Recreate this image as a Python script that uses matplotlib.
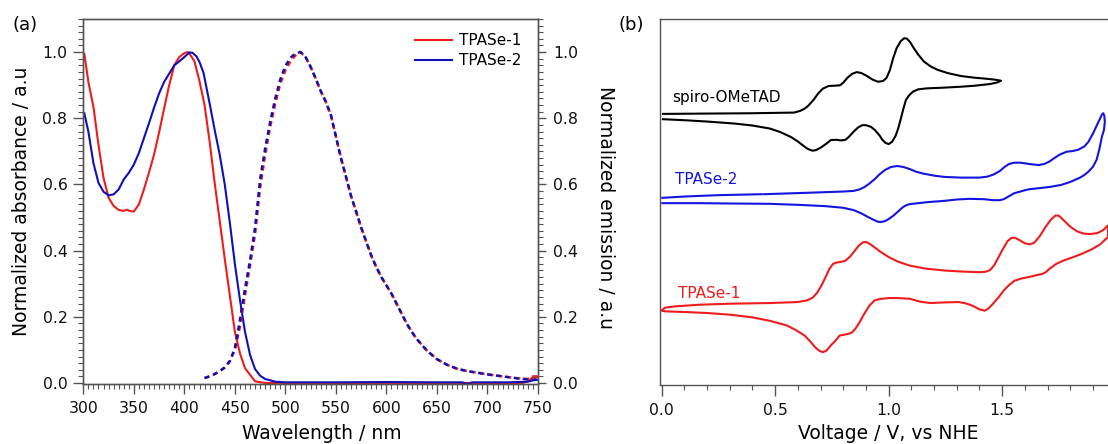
import numpy as np
import matplotlib
matplotlib.use("Agg")
import matplotlib.pyplot as plt
from matplotlib.ticker import MultipleLocator, FixedLocator, FormatStrFormatter

plt.rcParams['font.family'] = ['DejaVu Sans']

# ---------------- Panel (a) data ----------------
abs1_wl = [301, 305, 310, 315, 320, 325, 330, 335, 340, 343, 346, 350, 355, 360, 365, 370, 375,
           380, 385, 390, 395, 400, 403, 405, 410, 415, 420, 425, 430, 435, 440, 445, 450, 455,
           460, 465, 470, 480, 500, 550, 600, 650, 700, 735, 740, 745, 750]
abs1_val = [0.995, 0.91, 0.835, 0.72, 0.62, 0.56, 0.535, 0.523, 0.52, 0.524, 0.52, 0.518, 0.54,
            0.585, 0.636, 0.69, 0.757, 0.83, 0.90, 0.96, 0.985, 0.997, 1.0, 0.996, 0.972, 0.912,
            0.84, 0.73, 0.605, 0.49, 0.375, 0.265, 0.155, 0.09, 0.045, 0.025, 0.005, 0.0, 0.0,
            0.0, 0.0, 0.0, 0.0, 0.0, 0.005, 0.018, 0.018]

abs2_wl = [301, 305, 310, 315, 320, 325, 330, 335, 340, 345, 350, 355, 360, 365, 370, 375, 380,
           385, 390, 395, 400, 405, 408, 412, 415, 419, 425, 430, 435, 440, 445, 450, 455, 460,
           465, 470, 475, 480, 490, 500, 550, 600, 650, 675, 680, 685, 720, 740, 745, 750]
abs2_val = [0.815, 0.76, 0.665, 0.605, 0.578, 0.567, 0.57, 0.585, 0.615, 0.635, 0.66, 0.695,
            0.74, 0.785, 0.832, 0.875, 0.91, 0.935, 0.96, 0.972, 0.985, 0.999, 0.998, 0.987,
            0.97, 0.937, 0.845, 0.765, 0.69, 0.60, 0.485, 0.36, 0.252, 0.155, 0.085, 0.042,
            0.022, 0.012, 0.004, 0.002, 0.002, 0.003, 0.002, 0.002, -0.003, 0.002, 0.002,
            0.004, 0.008, 0.01]

em_wl = [420, 425, 430, 435, 440, 445, 450, 455, 460, 465, 470, 475, 480, 485, 490, 495, 500,
         505, 510, 515, 520, 525, 530, 535, 540, 545, 550, 555, 560, 565, 570, 575, 580, 585,
         590, 595, 600, 605, 610, 615, 620, 625, 630, 640, 650, 660, 670, 680, 690, 700, 710,
         720, 730, 740, 745, 750]
em2_val = [0.015, 0.02, 0.027, 0.036, 0.047, 0.066, 0.105, 0.19, 0.285, 0.37, 0.47, 0.615, 0.71,
           0.79, 0.86, 0.918, 0.958, 0.983, 0.996, 1.0, 0.985, 0.955, 0.92, 0.882, 0.85, 0.81,
           0.745, 0.68, 0.623, 0.565, 0.518, 0.47, 0.427, 0.385, 0.35, 0.32, 0.295, 0.27, 0.24,
           0.21, 0.18, 0.155, 0.133, 0.098, 0.072, 0.055, 0.043, 0.036, 0.031, 0.026, 0.022,
           0.018, 0.014, 0.011, 0.010, 0.012]
em1_val = [0.015, 0.02, 0.027, 0.036, 0.047, 0.066, 0.10, 0.17, 0.265, 0.355, 0.45, 0.59, 0.69,
           0.775, 0.845, 0.905, 0.945, 0.972, 0.99, 1.0, 0.985, 0.955, 0.92, 0.882, 0.85, 0.81,
           0.745, 0.68, 0.623, 0.565, 0.518, 0.47, 0.427, 0.385, 0.35, 0.32, 0.295, 0.27, 0.24,
           0.21, 0.18, 0.155, 0.133, 0.098, 0.072, 0.055, 0.043, 0.036, 0.031, 0.026, 0.022,
           0.018, 0.014, 0.012, 0.020, 0.020]

# ---------------- Panel (b) data (CV loops: forward scan then reverse scan) ----------------
spiro_v = [0.006, 0.2, 0.4, 0.584, 0.61, 0.63, 0.645, 0.67, 0.69, 0.71, 0.735, 0.76, 0.785,
           0.80, 0.82, 0.84, 0.86, 0.88, 0.905, 0.93, 0.953, 0.975, 0.99, 1.005, 1.02, 1.035,
           1.053, 1.068, 1.08, 1.095, 1.11, 1.13, 1.155, 1.185, 1.215, 1.26, 1.32, 1.38, 1.43,
           1.47, 1.495,
           1.48, 1.446, 1.38, 1.32, 1.24, 1.169, 1.13, 1.107, 1.09, 1.076, 1.065, 1.053, 1.042,
           1.03, 1.015, 1.0, 0.985, 0.97, 0.961, 0.94, 0.922, 0.90, 0.884, 0.865, 0.845, 0.825,
           0.81, 0.79, 0.77, 0.745, 0.725, 0.70, 0.68, 0.665, 0.645, 0.63, 0.60, 0.568, 0.52,
           0.476, 0.40, 0.32, 0.2, 0.1, 0.006]
spiro_i = [0.814, 0.815, 0.816, 0.818, 0.823, 0.830, 0.838, 0.857, 0.876, 0.890, 0.898, 0.899,
           0.900, 0.908, 0.924, 0.935, 0.940, 0.937, 0.928, 0.917, 0.911, 0.913, 0.922, 0.945,
           0.982, 1.012, 1.033, 1.042, 1.041, 1.030, 1.013, 0.993, 0.972, 0.957, 0.947, 0.937,
           0.928, 0.923, 0.920, 0.917, 0.914,
           0.909, 0.904, 0.899, 0.896, 0.893, 0.891, 0.888, 0.881, 0.870, 0.856, 0.830, 0.798,
           0.770, 0.747, 0.730, 0.723, 0.727, 0.738, 0.748, 0.765, 0.775, 0.780, 0.780, 0.773,
           0.760, 0.745, 0.736, 0.734, 0.736, 0.735, 0.724, 0.712, 0.705, 0.703, 0.708, 0.715,
           0.731, 0.745, 0.760, 0.770, 0.779, 0.785, 0.791, 0.795, 0.798]

tpase2_v = [0.003, 0.1, 0.246, 0.44, None, 0.45, 0.63, 0.80, 0.846, 0.87, 0.892, 0.915, 0.938,
            0.96, 0.984, 1.01, 1.038, 1.065, 1.092, 1.12, 1.153, 1.20, 1.246, 1.32, 1.40, 1.435,
            1.461, 1.49, 1.51, 1.53, 1.553, 1.58, 1.60, 1.63, 1.661, 1.685, 1.707, 1.73, 1.755,
            1.784, 1.81, 1.835, 1.862, 1.88, 1.90, 1.915, 1.931, 1.94, 1.945, 1.95,
            1.952, 1.948, 1.939, 1.928, 1.916, 1.90, 1.88, 1.862, 1.843, 1.80, 1.76, 1.711, 1.66,
            1.62, 1.60, 1.58, 1.553, 1.53, 1.507, 1.49, 1.461, 1.42, 1.354, 1.30, 1.246, 1.17,
            1.092, 1.075, 1.061, 1.04, 1.022, 1.00, 0.984, 0.965, 0.953, 0.93, 0.907, 0.88,
            0.846, 0.80, 0.722, 0.60, 0.476, 0.3, 0.168, 0.003]
tpase2_i = [0.561, 0.565, 0.569, 0.572, None, 0.572, 0.576, 0.580, 0.582, 0.586, 0.593, 0.604,
            0.617, 0.632, 0.645, 0.654, 0.657, 0.654, 0.648, 0.640, 0.634, 0.628, 0.624, 0.622,
            0.622, 0.625, 0.631, 0.642, 0.654, 0.663, 0.667, 0.667, 0.665, 0.662, 0.660, 0.663,
            0.670, 0.681, 0.692, 0.700, 0.702, 0.706, 0.716, 0.730, 0.755, 0.777, 0.800, 0.813,
            0.816, 0.808,
            0.790, 0.765, 0.745, 0.708, 0.676, 0.655, 0.640, 0.630, 0.622, 0.609, 0.600, 0.594,
            0.590, 0.587, 0.584, 0.580, 0.575, 0.566, 0.557, 0.554, 0.554, 0.557, 0.558, 0.556,
            0.552, 0.548, 0.542, 0.538, 0.532, 0.519, 0.508, 0.497, 0.491, 0.488, 0.489, 0.496,
            0.504, 0.514, 0.524, 0.531, 0.536, 0.540, 0.543, 0.544, 0.545, 0.545]

tpase1_v = [0.003, 0.015, 0.06, 0.168, 0.3, 0.476, 0.60, 0.64, 0.665, 0.685, 0.705, 0.722,
            0.74, 0.755, 0.77, 0.79, 0.81, 0.83, 0.85, 0.87, 0.887, 0.90, 0.915, 0.938, 0.965,
            0.999, 1.04, 1.092, 1.16, 1.246, 1.32, 1.40, 1.425, 1.446, 1.465, 1.48, 1.50, 1.523,
            1.54, 1.555, 1.575, 1.60, 1.62, 1.64, 1.665, 1.69, 1.715, 1.735, 1.75, 1.77, 1.80,
            1.83, 1.86, 1.89, 1.92, 1.945, 1.966,
            1.966, 1.93, 1.892, 1.85, 1.815, 1.77, 1.738, 1.71, 1.69, 1.677, 1.645, 1.615, 1.585,
            1.553, 1.53, 1.507, 1.485, 1.461, 1.44, 1.423, 1.40, 1.369, 1.34, 1.308, 1.25, 1.184,
            1.14, 1.092, 1.04, 0.999, 0.96, 0.938, 0.915, 0.892, 0.872, 0.853, 0.838, 0.822,
            0.80, 0.784, 0.765, 0.745, 0.725, 0.710, 0.695, 0.676, 0.655, 0.630, 0.59, 0.553,
            0.48, 0.399, 0.30, 0.2, 0.1, 0.015, 0.003]
tpase1_i = [0.223, 0.230, 0.234, 0.239, 0.242, 0.244, 0.247, 0.252, 0.260, 0.275, 0.298, 0.322,
            0.348, 0.362, 0.366, 0.368, 0.372, 0.384, 0.401, 0.418, 0.427, 0.428, 0.423, 0.412,
            0.398, 0.383, 0.369, 0.357, 0.348, 0.342, 0.339, 0.337, 0.338, 0.343, 0.358, 0.377,
            0.403, 0.430, 0.440, 0.441, 0.434, 0.424, 0.421, 0.425, 0.445, 0.472, 0.496, 0.508,
            0.507, 0.494, 0.474, 0.460, 0.453, 0.452, 0.455, 0.464, 0.478,
            0.443, 0.420, 0.405, 0.392, 0.383, 0.372, 0.362, 0.348, 0.336, 0.332, 0.327, 0.322,
            0.318, 0.311, 0.298, 0.282, 0.262, 0.243, 0.228, 0.221, 0.225, 0.236, 0.243, 0.247,
            0.246, 0.244, 0.248, 0.257, 0.259, 0.259, 0.256, 0.252, 0.236, 0.211, 0.186, 0.166,
            0.155, 0.151, 0.148, 0.146, 0.130, 0.116, 0.100, 0.096, 0.100, 0.111, 0.128, 0.146,
            0.163, 0.176, 0.190, 0.201, 0.209, 0.214, 0.217, 0.219, 0.221]

RED = '#ee1c1c'
BLUE = '#1010b8'
BLUE_B = '#1414e0'
GRAY = '#555555'
LABEL_FS = 13.5

W, H = 1108, 444
fig = plt.figure(figsize=(W / 100, H / 100), dpi=100)

def fx(px):
    return px / W

def fy(py):
    return 1 - py / H

def clean(seq):
    return [np.nan if v is None else v for v in seq]

# ---------- panel (a) ----------
A_L, A_R, A_T, A_B = 82.7, 538.3, 19.0, 384.0
ax = fig.add_axes([fx(A_L), fy(A_B), fx(A_R - A_L), (A_B - A_T) / H])
ax.plot(abs1_wl, abs1_val, color=RED, lw=1.5, label='TPASe-1')
ax.plot(abs2_wl, abs2_val, color=BLUE, lw=1.5, label='TPASe-2')
ax.set_xlim(299.4, 750.3)
ax.set_ylim(-0.003, 1.10)
ax2 = ax.twinx()
ax2.plot(em_wl, em1_val, color=RED, lw=1.8, dashes=(2.0, 1.6))
ax2.plot(em_wl, em2_val, color=BLUE, lw=1.8, dashes=(2.0, 1.6))
ax2.set_ylim(-0.003, 1.10)

for a in (ax, ax2):
    for s in a.spines.values():
        s.set_color(GRAY)
        s.set_linewidth(1.0)

ax.xaxis.set_major_locator(MultipleLocator(50))
ax.xaxis.set_minor_locator(MultipleLocator(5))
ax.yaxis.set_major_locator(MultipleLocator(0.2))
ax.yaxis.set_minor_locator(MultipleLocator(0.02))
ax2.yaxis.set_major_locator(MultipleLocator(0.2))
ax2.yaxis.set_minor_locator(MultipleLocator(0.02))
ax.yaxis.set_major_formatter(FormatStrFormatter('%.1f'))
ax2.yaxis.set_major_formatter(FormatStrFormatter('%.1f'))

ax.tick_params(axis='both', which='major', direction='out', length=7, width=1.0,
               color=GRAY, labelsize=11.3, labelcolor='#111111')
ax.tick_params(axis='both', which='minor', direction='out', length=3.6, width=0.8, color=GRAY)
ax.tick_params(axis='x', which='major', pad=5)
ax.tick_params(axis='y', which='major', pad=4)
ax2.tick_params(axis='y', which='major', direction='out', length=6, width=1.0,
                color=GRAY, labelsize=11.3, labelcolor='#111111', pad=4.5)
ax2.tick_params(axis='y', which='minor', direction='out', length=3.6, width=0.8, color=GRAY)

ah = A_B - A_T
aw = A_R - A_L
ax.set_xlabel('Wavelength / nm', fontsize=LABEL_FS)
ax.xaxis.label.set_va('baseline')
ax.xaxis.set_label_coords(0.525, (A_B - 438.5) / ah)
ax.set_ylabel('Normalized absorbance / a.u', fontsize=LABEL_FS)
ax.yaxis.label.set_va('center')
ax.yaxis.set_label_coords((22 - A_L) / aw, 0.5)
ax2.set_ylabel('Normalized emission / a.u', fontsize=LABEL_FS, rotation=270, va='center')
ax2.yaxis.set_label_coords((605 - A_L) / aw, 0.484)

leg = ax.legend(loc='upper left',
                bbox_to_anchor=((418 - A_L) / aw - 0.02, 1 - (27 - A_T) / ah),
                frameon=False, fontsize=11, handlelength=2.4, handletextpad=0.5,
                labelspacing=0.35, borderaxespad=0)

fig.text(fx(25), fy(25), '(a)', fontsize=13, ha='center', va='center')
fig.text(fx(631), fy(25), '(b)', fontsize=13, ha='center', va='center')

# ---------- panel (b) ----------
B_L, B_T, B_B = 660.0, 19.0, 385.0
bx = fig.add_axes([fx(B_L), fy(B_B), 1 - fx(B_L), (B_B - B_T) / H])
bx.plot(spiro_v, spiro_i, color='black', lw=1.5)
bx.plot(clean(tpase2_v), clean(tpase2_i), color=BLUE_B, lw=1.5)
bx.plot(tpase1_v, tpase1_i, color=RED, lw=1.5)
bx.set_xlim(-0.007, 1.966)
bx.set_ylim(-0.003, 1.10)
bx.spines['right'].set_visible(False)
for s in ('left', 'top', 'bottom'):
    bx.spines[s].set_color(GRAY)
    bx.spines[s].set_linewidth(1.0)
bx.set_yticks([])
bx.xaxis.set_major_locator(FixedLocator([0.0, 0.5, 1.0, 1.5]))
bx.xaxis.set_minor_locator(MultipleLocator(0.1))
bx.xaxis.set_major_formatter(FormatStrFormatter('%.1f'))
bx.tick_params(axis='x', which='major', direction='out', length=8, width=1.0, color=GRAY,
               labelsize=11.3, labelcolor='#111111', pad=5)
bx.tick_params(axis='x', which='minor', direction='out', length=3.5, width=0.8, color=GRAY)
bx.set_xlabel('Voltage / V, vs NHE', fontsize=LABEL_FS)
bx.xaxis.label.set_va('baseline')
bx.xaxis.set_label_coords(0.509, (B_B - 438.5) / (B_B - B_T))

bx.text(0.048, 0.862, 'spiro-OMeTAD', fontsize=11, color='black', va='center', ha='left')
bx.text(0.057, 0.617, 'TPASe-2', fontsize=11, color=BLUE_B, va='center', ha='left')
bx.text(0.072, 0.273, 'TPASe-1', fontsize=11, color=RED, va='center', ha='left')

fig.savefig('out.png', dpi=100)
